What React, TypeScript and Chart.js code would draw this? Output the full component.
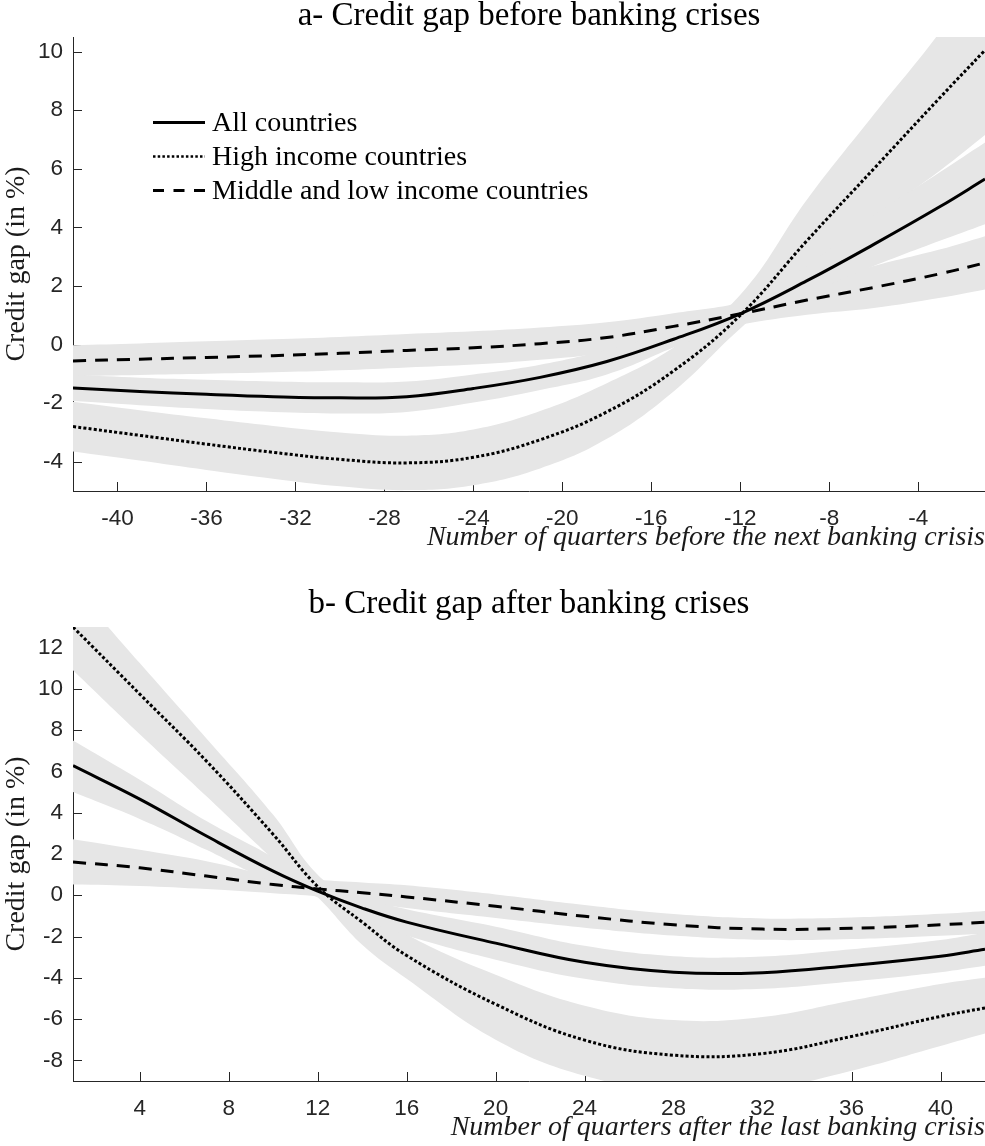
import React, { useEffect, useRef } from 'react';
import { Chart, registerables } from 'chart.js';

Chart.register(...registerables);

// ---------- text ----------
const SERIES_NAMES = ['All countries', 'High income countries', 'Middle and low income countries'];
const TITLE_A = 'a- Credit gap before banking crises';
const TITLE_B = 'b- Credit gap after banking crises';
const Y_TITLE = 'Credit gap (in %)';
const X_TITLE_A = 'Number of quarters before the next banking crisis';
const X_TITLE_B = 'Number of quarters after the last banking crisis';

// ---------- ticks ----------
const X_TICKS_A = [-40, -36, -32, -28, -24, -20, -16, -12, -8, -4];
const Y_TICKS_A = [-4, -2, 0, 2, 4, 6, 8, 10];
const X_TICKS_B = [4, 8, 12, 16, 20, 24, 28, 32, 36, 40];
const Y_TICKS_B = [-8, -6, -4, -2, 0, 2, 4, 6, 8, 10, 12];

// ---------- panel a: quarters before the next crisis ----------
const Q_A = [-42, -39, -36, -33, -30, -27, -24, -21, -18, -15, -12, -9, -6, -3, -1];
const ALL_A = [-1.48, -1.6, -1.7, -1.78, -1.82, -1.78, -1.5, -1.12, -0.58, 0.18, 1.05, 2.18, 3.42, 4.72, 5.65];
const ALL_A_LO = [-1.93, -2.07, -2.2, -2.3, -2.35, -2.3, -1.98, -1.55, -1.02, -0.1, 0.78, 1.72, 2.68, 3.55, 4.11];
const ALL_A_HI = [-1.03, -1.13, -1.2, -1.26, -1.29, -1.26, -1.02, -0.69, -0.18, 0.5, 1.3, 2.7, 4.4, 5.9, 6.9];
const HIGH_A = [-2.8, -3.1, -3.4, -3.68, -3.92, -4.04, -3.85, -3.25, -2.3, -0.9, 1.0, 3.55, 6.0, 8.45, 10.05];
const HIGH_A_LO = [-3.65, -3.96, -4.28, -4.58, -4.84, -4.97, -4.8, -4.23, -3.22, -1.6, 0.55, 2.45, 4.3, 5.95, 7.15];
const HIGH_A_HI = [-1.95, -2.24, -2.52, -2.78, -3.0, -3.11, -2.9, -2.27, -1.32, -0.1, 1.7, 4.95, 7.85, 10.7, 13.0];
const MID_A = [-0.56, -0.5, -0.44, -0.38, -0.3, -0.2, -0.11, 0.03, 0.24, 0.62, 1.05, 1.52, 1.95, 2.42, 2.79];
const MID_A_LO = [-1.08, -1.04, -1.0, -0.95, -0.88, -0.78, -0.68, -0.52, -0.28, 0.17, 0.68, 1.02, 1.25, 1.6, 1.88];
const MID_A_HI = [-0.02, 0.04, 0.11, 0.18, 0.26, 0.36, 0.45, 0.58, 0.76, 1.07, 1.42, 2.02, 2.68, 3.25, 3.7];

// ---------- panel b: quarters after the last crisis ----------
const Q_B = [1, 4, 7, 10, 12, 14, 16, 20, 24, 28, 32, 36, 40, 42];
const ALL_B = [6.28, 4.66, 2.87, 1.17, 0.2, -0.62, -1.3, -2.32, -3.25, -3.73, -3.75, -3.4, -2.95, -2.62];
const ALL_B_LO = [5.0, 3.7, 2.2, 0.6, -0.1, -1.15, -1.95, -3.12, -4.05, -4.51, -4.53, -4.18, -3.73, -3.42];
const ALL_B_HI = [7.5, 5.6, 3.6, 1.85, 0.55, -0.1, -0.68, -1.52, -2.45, -2.95, -2.97, -2.62, -2.17, -1.82];
const HIGH_B = [13.0, 9.75, 6.5, 2.95, 0.42, -1.3, -2.92, -5.28, -7.02, -7.75, -7.67, -6.84, -5.87, -5.46];
const HIGH_B_LO = [10.9, 7.8, 4.8, 1.75, -0.1, -2.4, -4.05, -7.0, -8.75, -9.45, -9.4, -8.5, -7.3, -6.7];
const HIGH_B_HI = [14.95, 11.25, 7.6, 3.9, 1.0, -0.4, -1.9, -3.85, -5.35, -6.05, -5.9, -5.1, -4.3, -4.0];
const MID_B = [1.61, 1.33, 0.93, 0.52, 0.31, 0.12, -0.08, -0.53, -1.02, -1.43, -1.64, -1.6, -1.43, -1.31];
const MID_B_LO = [0.52, 0.45, 0.3, 0.1, -0.05, -0.3, -0.62, -1.1, -1.57, -1.95, -2.16, -2.12, -1.96, -1.86];
const MID_B_HI = [2.71, 2.2, 1.65, 0.95, 0.75, 0.62, 0.48, 0.04, -0.47, -0.91, -1.12, -1.08, -0.9, -0.76];

// ---------- styles ----------
const W = 985;
const BAND = 'rgb(230,230,230)';
const AXIS = '#262626';
const SERIF = "'Liberation Serif', 'Times New Roman', serif";
const SANS = "'Liberation Sans', Arial, sans-serif";
const LINE_STYLES = [
  { dash: [] as number[], width: 3 },
  { dash: [3, 2.2], width: 3 },
  { dash: [13, 9], width: 3 },
];

const pts = (xs: number[], ys: number[]) => xs.map((x, i) => ({ x, y: ys[i] }));

const inwardTicks = {
  id: 'inwardTicks',
  beforeDatasetsDraw(chart: any) {
    const { ctx, chartArea, scales } = chart;
    ctx.save();
    ctx.strokeStyle = AXIS;
    ctx.lineWidth = 1;
    ctx.beginPath();
    scales.x.ticks.forEach((t: any) => {
      const px = Math.round(scales.x.getPixelForValue(t.value)) + 0.5;
      ctx.moveTo(px, chartArea.bottom);
      ctx.lineTo(px, chartArea.bottom - 9);
    });
    scales.y.ticks.forEach((t: any) => {
      const py = Math.round(scales.y.getPixelForValue(t.value)) + 0.5;
      ctx.moveTo(chartArea.left, py);
      ctx.lineTo(chartArea.left + 9, py);
    });
    ctx.stroke();
    ctx.restore();
  },
};

const lineLegend = {
  id: 'lineLegend',
  afterDatasetsDraw(chart: any, _args: any, opts: any) {
    if (!opts || !opts.show) return;
    const { ctx, chartArea } = chart;
    const x0 = chartArea.left + 80;
    const x1 = chartArea.left + 132;
    const tx = chartArea.left + 139;
    const rows = [chartArea.top + 85.5, chartArea.top + 119.5, chartArea.top + 153.5];
    const legendDash = [[], [2.5, 2.2], [11, 9.5]];
    const legendWidth = [3, 2.5, 3];
    ctx.save();
    SERIES_NAMES.forEach((name, i) => {
      ctx.beginPath();
      ctx.setLineDash(legendDash[i]);
      ctx.lineWidth = legendWidth[i];
      ctx.strokeStyle = '#000';
      ctx.moveTo(x0, rows[i]);
      ctx.lineTo(x1, rows[i]);
      ctx.stroke();
      ctx.setLineDash([]);
      ctx.fillStyle = '#000';
      ctx.font = `28px ${SERIF}`;
      ctx.textBaseline = 'middle';
      ctx.textAlign = 'left';
      ctx.fillText(name, tx, rows[i] + 1);
    });
    ctx.restore();
  },
};

type Panel = {
  q: number[];
  lines: number[][];
  lows: number[][];
  highs: number[][];
  xMin: number; xMax: number; yMin: number; yMax: number;
  xTicks: number[]; yTicks: number[];
  title: string; xTitle: string;
  titleTop: number; titleBottom: number;
  legend: boolean;
};

function makeConfig(p: Panel): any {
  const datasets: any[] = [];
  p.lines.forEach((ys, i) => {
    datasets.push({
      label: SERIES_NAMES[i],
      data: pts(p.q, ys),
      borderColor: '#000',
      borderWidth: LINE_STYLES[i].width,
      borderDash: LINE_STYLES[i].dash,
      borderCapStyle: 'butt',
      pointRadius: 0,
      tension: 0.4,
      fill: false,
      order: 1,
    });
  });
  p.lows.forEach((lo, i) => {
    const loIndex = datasets.length;
    datasets.push({
      label: SERIES_NAMES[i] + ' lower',
      data: pts(p.q, lo),
      borderWidth: 0,
      borderColor: BAND,
      pointRadius: 0,
      tension: 0.4,
      fill: false,
      order: 2,
      clip: { left: 1, right: 0, top: 0, bottom: 1 },
    });
    datasets.push({
      label: SERIES_NAMES[i] + ' upper',
      data: pts(p.q, p.highs[i]),
      borderWidth: 0,
      borderColor: BAND,
      backgroundColor: BAND,
      pointRadius: 0,
      tension: 0.4,
      fill: loIndex,
      order: 2,
      clip: { left: 1, right: 0, top: 0, bottom: 1 },
    });
  });

  return {
    type: 'line',
    data: { datasets },
    plugins: [inwardTicks, lineLegend],
    options: {
      animation: false,
      responsive: false,
      maintainAspectRatio: false,
      devicePixelRatio: 1,
      events: [],
      layout: { padding: 0, autoPadding: false },
      plugins: {
        legend: { display: false },
        tooltip: { enabled: false },
        title: {
          display: true,
          text: p.title,
          fullSize: false,
          color: '#000',
          font: { family: SERIF, size: 33, weight: 'normal', lineHeight: 1.0 },
          padding: { top: p.titleTop, bottom: p.titleBottom },
        },
        lineLegend: { show: p.legend },
      },
      scales: {
        x: {
          type: 'linear',
          min: p.xMin,
          max: p.xMax,
          afterBuildTicks: (s: any) => { s.ticks = p.xTicks.map((v) => ({ value: v })); },
          afterFit: (s: any) => { s.height = 65; },
          ticks: {
            color: AXIS,
            font: { family: SANS, size: 22.5 },
            padding: 14,
            maxRotation: 0,
            autoSkip: false,
            callback: (v: any) => String(v),
          },
          grid: { display: false, drawTicks: false },
          border: { display: true, color: AXIS, width: 1 },
          title: {
            display: true,
            text: p.xTitle,
            align: 'end',
            color: '#1a1a1a',
            font: { family: SERIF, size: 28, style: 'italic', lineHeight: 1.2 },
            padding: { top: 0, bottom: 2 },
          },
        },
        y: {
          type: 'linear',
          min: p.yMin,
          max: p.yMax,
          afterBuildTicks: (s: any) => { s.ticks = p.yTicks.map((v) => ({ value: v })); },
          afterFit: (s: any) => { s.width = 73; },
          ticks: {
            color: AXIS,
            font: { family: SANS, size: 22.5 },
            padding: 10,
            autoSkip: false,
            callback: (v: any) => String(v),
          },
          grid: { display: false, drawTicks: false },
          border: { display: true, color: AXIS, width: 1 },
          title: {
            display: true,
            text: Y_TITLE,
            color: '#1a1a1a',
            font: { family: SERIF, size: 28, lineHeight: 1.2 },
            padding: { top: 0, bottom: 0 },
          },
        },
      },
    },
  };
}

const PANEL_A: Panel = {
  q: Q_A,
  lines: [ALL_A, HIGH_A, MID_A],
  lows: [ALL_A_LO, HIGH_A_LO, MID_A_LO],
  highs: [ALL_A_HI, HIGH_A_HI, MID_A_HI],
  xMin: -42, xMax: -1, yMin: -5, yMax: 10.5,
  xTicks: X_TICKS_A, yTicks: Y_TICKS_A,
  title: TITLE_A, xTitle: X_TITLE_A,
  titleTop: 0, titleBottom: 4,
  legend: true,
};

const PANEL_B: Panel = {
  q: Q_B,
  lines: [ALL_B, HIGH_B, MID_B],
  lows: [ALL_B_LO, HIGH_B_LO, MID_B_LO],
  highs: [ALL_B_HI, HIGH_B_HI, MID_B_HI],
  xMin: 1, xMax: 42, yMin: -9, yMax: 13,
  xTicks: X_TICKS_B, yTicks: Y_TICKS_B,
  title: TITLE_B, xTitle: X_TITLE_B,
  titleTop: 31.4, titleBottom: 6.6,
  legend: false,
};

function ChartCanvas({ panel, height }: { panel: Panel; height: number }) {
  const ref = useRef<HTMLCanvasElement | null>(null);
  useEffect(() => {
    if (!ref.current) return;
    const chart = new Chart(ref.current, makeConfig(panel));
    return () => chart.destroy();
  }, [panel]);
  return (
    <canvas
      ref={ref}
      width={W}
      height={height}
      style={{ display: 'block', width: W, height }}
    />
  );
}

export default function App() {
  return (
    <div
      style={{
        position: 'absolute',
        left: 0,
        top: 0,
        width: W,
        height: 1146,
        background: '#fff',
        overflow: 'hidden',
      }}
    >
      <ChartCanvas panel={PANEL_A} height={556} />
      <ChartCanvas panel={PANEL_B} height={590} />
    </div>
  );
}
